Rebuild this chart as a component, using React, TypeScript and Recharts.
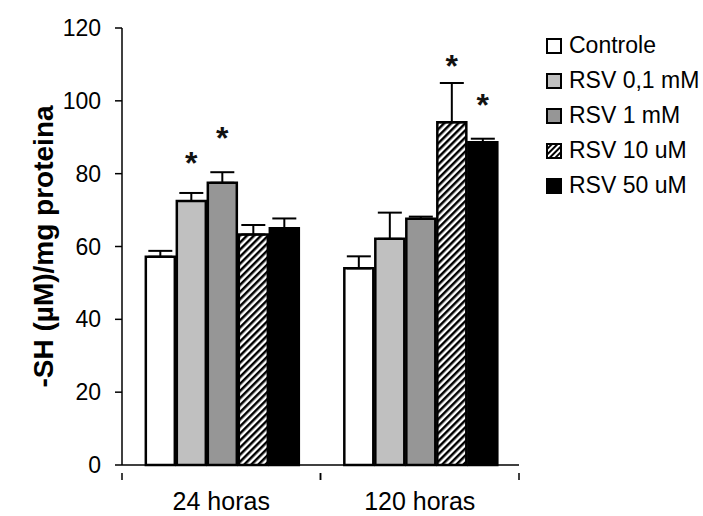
import React from 'react';
import { BarChart, Bar, XAxis, YAxis, ErrorBar, LabelList } from 'recharts';

const CATEGORIES = ['24 horas', '120 horas'];
const SERIES_NAMES = ['Controle', 'RSV 0,1 mM', 'RSV 1 mM', 'RSV 10 uM', 'RSV 50 uM'];
const CONTROLE = [57.2, 54.0];
const CONTROLE_ERR = [1.6, 3.3];
const RSV_01 = [72.5, 62.1];
const RSV_01_ERR = [2.2, 7.2];
const RSV_1 = [77.5, 67.6];
const RSV_1_ERR = [2.9, 0.6];
const RSV_10 = [63.3, 94.1];
const RSV_10_ERR = [2.6, 10.8];
const RSV_50 = [65.0, 88.6];
const RSV_50_ERR = [2.7, 1.0];
const STARS_CONTROLE = [false, false];
const STARS_RSV_01 = [true, false];
const STARS_RSV_1 = [true, false];
const STARS_RSV_10 = [false, true];
const STARS_RSV_50 = [false, true];
const Y_TICKS = [0, 20, 40, 60, 80, 100, 120];

const VALUES = [CONTROLE, RSV_01, RSV_1, RSV_10, RSV_50];
const ERRS = [CONTROLE_ERR, RSV_01_ERR, RSV_1_ERR, RSV_10_ERR, RSV_50_ERR];
const STARS = [STARS_CONTROLE, STARS_RSV_01, STARS_RSV_1, STARS_RSV_10, STARS_RSV_50];

const FILLS = ['#ffffff', '#c0c0c0', '#969696', 'url(#hatch)', '#000000'];
const FONT = '"Liberation Sans", Arial, sans-serif';
// visual distance (px) from error cap to star centre
const STAR_LIFT: Record<string, number> = { '1-0': 36, '2-0': 40, '3-1': 23, '4-1': 40 };

const data = CATEGORIES.map((name, i) => {
  const row: any = { name };
  VALUES.forEach((vals, s) => {
    row['s' + s] = vals[i];
    row['e' + s] = [0, ERRS[s][i]];
  });
  return row;
});

const makeStar = (s: number) => (props: any) => {
  const { x, y, width, height, value, index } = props;
  if (!STARS[s][index]) return null;
  const pxPerUnit = height / value;
  const capY = y - ERRS[s][index] * pxPerUnit;
  const lift = STAR_LIFT[s + '-' + index] ?? 38;
  const cy = capY - lift;
  return (
    <text x={x + width / 2} y={cy + 17} textAnchor="middle" fontSize={32} fontWeight="bold"
      fontFamily={FONT} fill="#111">*</text>
  );
};

const YLabel = (props: any) => {
  const vb = props.viewBox || {};
  const cx = 43;
  const cy = vb.y + vb.height / 2;
  return (
    <text x={cx} y={cy} transform={`rotate(-90, ${cx}, ${cy})`} textAnchor="middle"
      dominantBaseline="central" fontSize={28} fontWeight="bold" fontFamily={FONT} fill="#000">
      -SH (µM)/mg proteina
    </text>
  );
};

const XTick = (props: any) => {
  const { x, y, payload } = props;
  const half = payload && payload.offset ? payload.offset : 99.25;
  return (
    <g>
      <line x1={x - half} y1={y} x2={x - half} y2={y + 7} stroke="#000" strokeWidth={1.5} />
      <line x1={x + half} y1={y} x2={x + half} y2={y + 7} stroke="#000" strokeWidth={1.5} />
      <text x={x} y={y + 19} dy="0.71em" textAnchor="middle" fontSize={25} fill="#000" fontFamily={FONT}>
        {payload.value}
      </text>
    </g>
  );
};

const LegendBox = () => (
  <div style={{ position: 'absolute', left: 546, top: 28, fontFamily: FONT, fontSize: 23, color: '#000' }}>
    {SERIES_NAMES.map((n, i) => (
      <div key={n} style={{ display: 'flex', alignItems: 'center', height: 35, whiteSpace: 'nowrap' }}>
        <svg width={16} height={16} style={{ marginRight: 7 }}>
          <defs>
            <pattern id={'lh' + i} width="4" height="4" patternUnits="userSpaceOnUse" patternTransform="rotate(45)">
              <rect width="4" height="4" fill="#fff" />
              <rect width="2" height="4" fill="#000" />
            </pattern>
          </defs>
          <rect x={1} y={1} width={14} height={14}
            fill={i === 3 ? 'url(#lh' + i + ')' : FILLS[i]} stroke="#000" strokeWidth={2} />
        </svg>
        <span>{n}</span>
      </div>
    ))}
  </div>
);

export default function App() {
  return (
    <div style={{ position: 'absolute', left: 0, top: 0, width: 703, height: 516, background: '#fff', overflow: 'hidden' }}>
      <BarChart width={703} height={516} data={data}
        margin={{ top: 28, right: 184, bottom: 0, left: 0 }}
        barCategoryGap="12%" barGap={2}>
        <defs>
          <pattern id="hatch" width="5" height="5" patternUnits="userSpaceOnUse" patternTransform="rotate(45)">
            <rect width="5" height="5" fill="#fff" />
            <rect width="2.5" height="5" fill="#000" />
          </pattern>
        </defs>
        <XAxis dataKey="name" height={51} axisLine={{ stroke: '#000', strokeWidth: 1.5 }} tickLine={false}
          tick={<XTick />} interval={0} />
        <YAxis width={122} domain={[0, 120]} ticks={Y_TICKS} interval={0} tickSize={7} tickMargin={14}
          axisLine={{ stroke: '#000', strokeWidth: 1.5 }} tickLine={{ stroke: '#000', strokeWidth: 1.5 }}
          tick={{ fontSize: 23, fill: '#000', fontFamily: FONT }} label={<YLabel />} />
        {SERIES_NAMES.map((n, s) => (
          <Bar key={n} dataKey={'s' + s} name={n} fill={FILLS[s]} stroke="#000" strokeWidth={2.5}
            isAnimationActive={false}>
            <ErrorBar dataKey={'e' + s} width={12} stroke="#000" strokeWidth={2} direction="y" />
            <LabelList dataKey={'s' + s} content={makeStar(s)} />
          </Bar>
        ))}
      </BarChart>
      <LegendBox />
    </div>
  );
}
